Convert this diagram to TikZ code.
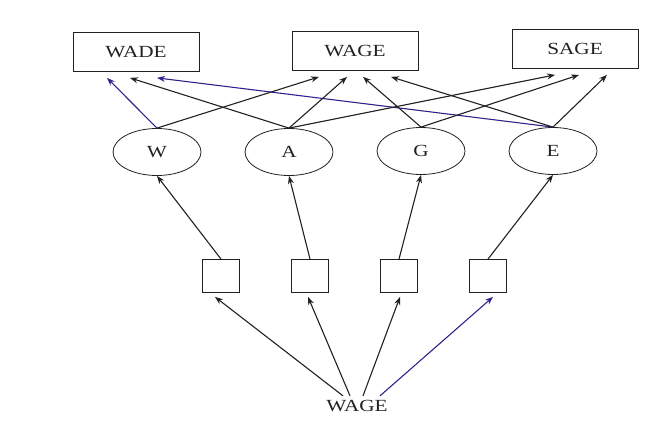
\documentclass[tikz,border=0pt]{standalone}
\usepackage{fontspec}
\usepackage{tikz}
\usetikzlibrary{shapes.geometric, arrows.meta}
\newfontfamily\wordfont[FakeStretch=1.25]{Liberation Serif}
\newcommand{\wfont}{\wordfont\fontsize{17}{20}\selectfont}
\definecolor{pen}{RGB}{35,32,36}
\definecolor{blueink}{RGB}{48,36,140}

\begin{document}
\begin{tikzpicture}[x=1pt, y=-1pt, font=\wfont, line width=0.8pt, draw=pen, text=pen,
        word/.style = {draw, rectangle, minimum width=126pt, minimum height=39pt, inner sep=0pt},
        letter/.style = {draw, ellipse, minimum width=88pt, minimum height=47pt, inner sep=0pt},
        unit/.style = {draw, rectangle, minimum width=37pt, minimum height=33pt, inner sep=0pt},
        arr/.style = {-{Stealth[length=8pt, width=6pt]}, line width=1.1pt, pen}]
        \useasboundingbox (0,0) rectangle (645,425);

        \node [word] (wade) at (136, 52) {WADE};
        \node [word] (wage) at (355, 51) {WAGE};
        \node [word] (sage) at (575, 49) {SAGE};

        \node [letter] (w) at (157, 152) {W};
        \node [letter] (a) at (289, 152) {A};
        \node [letter] (g) at (421, 151) {G};
        \node [letter] (e) at (553, 151) {E};

        \foreach \n/\x in {1/221, 2/310, 3/399, 4/488}
                 {
                   \node [unit] (u\n) at (\x, 276) {};
                 }
        \node [inner sep=0pt] (in) at (357, 406) {WAGE};

        % letters up to the words
        \draw [arr, blueink] (w.north) -- ([xshift=-29pt, yshift=-6pt] wade.south);
        \draw [arr] (a.north) -- ([xshift=-6pt, yshift=-6pt] wade.south);
        \draw [arr, blueink] (e.north) -- ([xshift=21pt, yshift=-6pt] wade.south);
        \draw [arr] (w.north) -- ([xshift=-36pt, yshift=-6pt] wage.south);
        \draw [arr] (a.north) -- ([xshift=-8pt, yshift=-6pt] wage.south);
        \draw [arr] (g.north) -- ([xshift=8pt, yshift=-6pt] wage.south);
        \draw [arr] (e.north) -- ([xshift=36pt, yshift=-6pt] wage.south);
        \draw [arr] (a.north) -- ([xshift=-20pt, yshift=-6pt] sage.south);
        \draw [arr] (g.north) -- ([xshift=4pt, yshift=-6pt] sage.south);
        \draw [arr] (e.north) -- ([xshift=32pt, yshift=-6pt] sage.south);

        % units up to the letters
        \foreach \n/\m in {1/w, 2/a, 3/g, 4/e}
                 {
                   \draw [arr] (u\n.north) -- (\m.south);
                 }

        % input up to the units
        \draw [arr] ([xshift=-14pt, yshift=4pt] in.north) -- ([xshift=-6pt, yshift=-4pt] u1.south);
        \draw [arr] ([xshift=-7pt, yshift=4pt] in.north) -- ([xshift=-2pt, yshift=-4pt] u2.south);
        \draw [arr] ([xshift=6pt, yshift=4pt] in.north) -- ([xshift=1pt, yshift=-4pt] u3.south);
        \draw [arr, blueink] ([xshift=23pt, yshift=4pt] in.north) -- ([xshift=5pt, yshift=-4pt] u4.south);
\end{tikzpicture}
\end{document}
